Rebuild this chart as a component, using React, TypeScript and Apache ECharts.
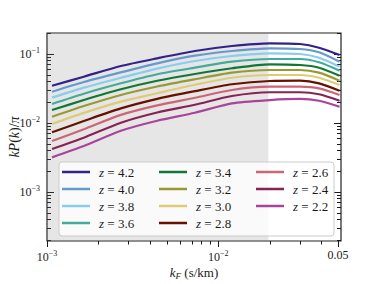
import React, { useEffect, useRef } from 'react';
import * as echarts from 'echarts';

// wavenumber bins (s/km)
const kValues = [0.00107, 0.00164, 0.0027, 0.0044, 0.0073, 0.012, 0.02, 0.03, 0.0387, 0.051];

const redshifts = ['4.2', '4.0', '3.8', '3.6', '3.4', '3.2', '3.0', '2.8', '2.6', '2.4', '2.2'];
const colors = ['#332288', '#6699CC', '#88CCEE', '#44AA99', '#117733', '#999933', '#DDCC77', '#661100', '#CC6677', '#882255', '#AA4499'];

const z42 = [0.0347, 0.0469, 0.0670, 0.0866, 0.1105, 0.1306, 0.1429, 0.1396, 0.1234, 0.0967];
const z40 = [0.0284, 0.0393, 0.0543, 0.0733, 0.0945, 0.1105, 0.1209, 0.1182, 0.1058, 0.0773];
const z38 = [0.0233, 0.0325, 0.0453, 0.0615, 0.0792, 0.0935, 0.1024, 0.1000, 0.0884, 0.0655];
const z36 = [0.0189, 0.0266, 0.0376, 0.0508, 0.0633, 0.0773, 0.0846, 0.0846, 0.0758, 0.0573];
const z34 = [0.0154, 0.0215, 0.0308, 0.0409, 0.0513, 0.0621, 0.0709, 0.0693, 0.0633, 0.0485];
const z32 = [0.0123, 0.0176, 0.0255, 0.0338, 0.0430, 0.0536, 0.0586, 0.0586, 0.0536, 0.0410];
const z30 = [0.00967, 0.0140, 0.0204, 0.0270, 0.0358, 0.0453, 0.0496, 0.0496, 0.0453, 0.0355];
const z28 = [0.00733, 0.0107, 0.0163, 0.0224, 0.0290, 0.0364, 0.0406, 0.0410, 0.0376, 0.0294];
const z26 = [0.00548, 0.0081, 0.0131, 0.0180, 0.0232, 0.0301, 0.0336, 0.0336, 0.0318, 0.0255];
const z24 = [0.00420, 0.00612, 0.0101, 0.0142, 0.0184, 0.0246, 0.0279, 0.0279, 0.0261, 0.0210];
const z22 = [0.00318, 0.00464, 0.00773, 0.0108, 0.0141, 0.0193, 0.0215, 0.0223, 0.0210, 0.0172];
const seriesValues = [z42, z40, z38, z36, z34, z32, z30, z28, z26, z24, z22];

const xMajorTicks = [0.001, 0.01, 0.05];
const xMajorLabels = ['10{sup|−3}', '10{sup|−2}', '0.05'];
const xMinorTicks = [0.002, 0.003, 0.004, 0.005, 0.006, 0.007, 0.008, 0.009, 0.02, 0.03, 0.04];
const yMajorTicks = [0.001, 0.01, 0.1];
const yMajorLabels = ['10{sup|−3}', '10{sup|−2}', '10{sup|−1}'];
const yMinorTicks = [
  0.0002, 0.0003, 0.0004, 0.0005, 0.0006, 0.0007, 0.0008, 0.0009,
  0.002, 0.003, 0.004, 0.005, 0.006, 0.007, 0.008, 0.009,
  0.02, 0.03, 0.04, 0.05, 0.06, 0.07, 0.08, 0.09, 0.2,
];
const shadeStart = 0.001;
const shadeEnd = 0.0196;

const FONT = 'Liberation Serif';
const INK = '#1a1a1a';

const rich = {
  sup: { fontSize: 8, fontFamily: FONT, color: INK, padding: [0, 0, 7, 0] },
  i: { fontStyle: 'italic', fontFamily: FONT, color: INK, fontSize: 13 },
  iy: { fontStyle: 'italic', fontFamily: FONT, color: INK, fontSize: 14 },
  isub: { fontStyle: 'italic', fontFamily: FONT, color: INK, fontSize: 9, padding: [6, 0, 0, 0] },
};

function pick(ticks: number[], labels: string[], v: number) {
  for (let i = 0; i < ticks.length; i++) {
    if (Math.abs(Math.log10(v / ticks[i])) < 1e-6) return labels[i];
  }
  return '';
}

export default function App() {
  const ref = useRef<HTMLDivElement>(null);
  useEffect(() => {
    if (!ref.current) return;
    const chart = echarts.init(ref.current, undefined, { renderer: 'svg' });
    const names = redshifts.map((z) => 'z = ' + z);
    const tickLine = { color: INK, width: 1 };
    const baseX = { type: 'log', logBase: 10, min: 0.001, max: 0.052, gridIndex: 0, splitLine: { show: false } };
    const baseY = { type: 'log', logBase: 10, min: 0.000195, max: 0.2015, gridIndex: 0, splitLine: { show: false } };
    const legendCommon = {
      orient: 'vertical',
      top: 165,
      padding: 0,
      icon: 'rect',
      itemWidth: 28,
      itemHeight: 2.5,
      itemGap: 3,
      selectedMode: false,
      formatter: (name: string) => `{i|z} = ${name.slice(4)}`,
      textStyle: { fontFamily: FONT, fontSize: 13, color: INK, lineHeight: 14, padding: [0, 0, 0, 4], rich },
    };
    chart.setOption({
      animation: false,
      grid: {
        left: 47, right: 38, top: 33, bottom: 43,
        show: true, borderColor: '#222', borderWidth: 1.2, backgroundColor: 'transparent',
        containLabel: false, outerBoundsMode: 'none',
      },
      xAxis: [
        {
          ...baseX,
          position: 'bottom',
          axisLine: { show: false },
          axisTick: { show: true, inside: false, length: 6, customValues: xMajorTicks, lineStyle: tickLine },
          axisLabel: {
            show: true, customValues: xMajorTicks, margin: 8,
            formatter: (v: number) => pick(xMajorTicks, xMajorLabels, v),
            fontFamily: FONT, fontSize: 12, color: INK, rich,
          },
          name: '{i|k}{isub|F} (s/km)',
          nameLocation: 'middle',
          nameGap: 24,
          nameMoveOverlap: false,
          nameTextStyle: { fontFamily: FONT, fontSize: 13, color: INK, rich },
        },
        {
          ...baseX,
          position: 'bottom',
          offset: 0,
          axisLine: { show: false },
          axisTick: { show: true, inside: false, length: 3.5, customValues: xMinorTicks, lineStyle: tickLine },
          axisLabel: { show: false },
        },
      ],
      yAxis: [
        {
          ...baseY,
          position: 'left',
          axisLine: { show: false },
          axisTick: { show: true, inside: true, length: 7, customValues: yMajorTicks, lineStyle: tickLine },
          axisLabel: {
            show: true, customValues: yMajorTicks, margin: 7,
            formatter: (v: number) => pick(yMajorTicks, yMajorLabels, v),
            fontFamily: FONT, fontSize: 12, color: INK, rich,
          },
          name: '{iy|kP}({iy|k})/{iy|π}',
          nameLocation: 'middle',
          nameGap: 26,
          nameMoveOverlap: false,
          nameTextStyle: { fontFamily: FONT, fontSize: 14, color: INK, rich },
        },
        {
          ...baseY,
          position: 'left',
          offset: 0,
          axisLine: { show: false },
          axisTick: { show: true, inside: true, length: 4, customValues: yMinorTicks, lineStyle: tickLine },
          axisLabel: { show: false },
        },
        {
          ...baseY,
          position: 'right',
          offset: 0,
          axisLine: { show: false },
          axisTick: { show: true, inside: true, length: 7, customValues: yMajorTicks, lineStyle: tickLine },
          axisLabel: { show: false },
        },
        {
          ...baseY,
          position: 'right',
          offset: 0,
          axisLine: { show: false },
          axisTick: { show: true, inside: true, length: 4, customValues: yMinorTicks, lineStyle: tickLine },
          axisLabel: { show: false },
        },
      ],
      legend: [
        { ...legendCommon, left: 62, data: names.slice(0, 4) },
        { ...legendCommon, left: 159, data: names.slice(4, 8) },
        { ...legendCommon, left: 256, data: names.slice(8) },
      ],
      graphic: [
        {
          type: 'rect',
          z: 3,
          shape: { x: 59, y: 162, width: 275, height: 74, r: 3 },
          style: { fill: 'rgba(255,255,255,0.8)', stroke: '#cccccc', lineWidth: 1 },
          silent: true,
        },
      ],
      series: [
        {
          name: '_shade',
          type: 'line',
          data: [],
          z: 1,
          silent: true,
          markArea: {
            silent: true,
            itemStyle: { color: 'rgba(128,128,128,0.2)' },
            data: [[{ xAxis: shadeStart }, { xAxis: shadeEnd }]],
          },
        },
        ...names.map((name, i) => ({
          name,
          type: 'line',
          xAxisIndex: 0,
          yAxisIndex: 0,
          z: 2,
          showSymbol: false,
          symbol: 'none',
          smooth: 0.25,
          clip: true,
          color: colors[i],
          lineStyle: { color: colors[i], width: 2.2 },
          data: kValues.map((k, j) => [k, seriesValues[i][j]]),
        })),
      ],
    });
    return () => chart.dispose();
  }, []);
  return <div ref={ref} style={{ position: 'absolute', left: 0, top: 0, width: 379, height: 284 }} />;
}
